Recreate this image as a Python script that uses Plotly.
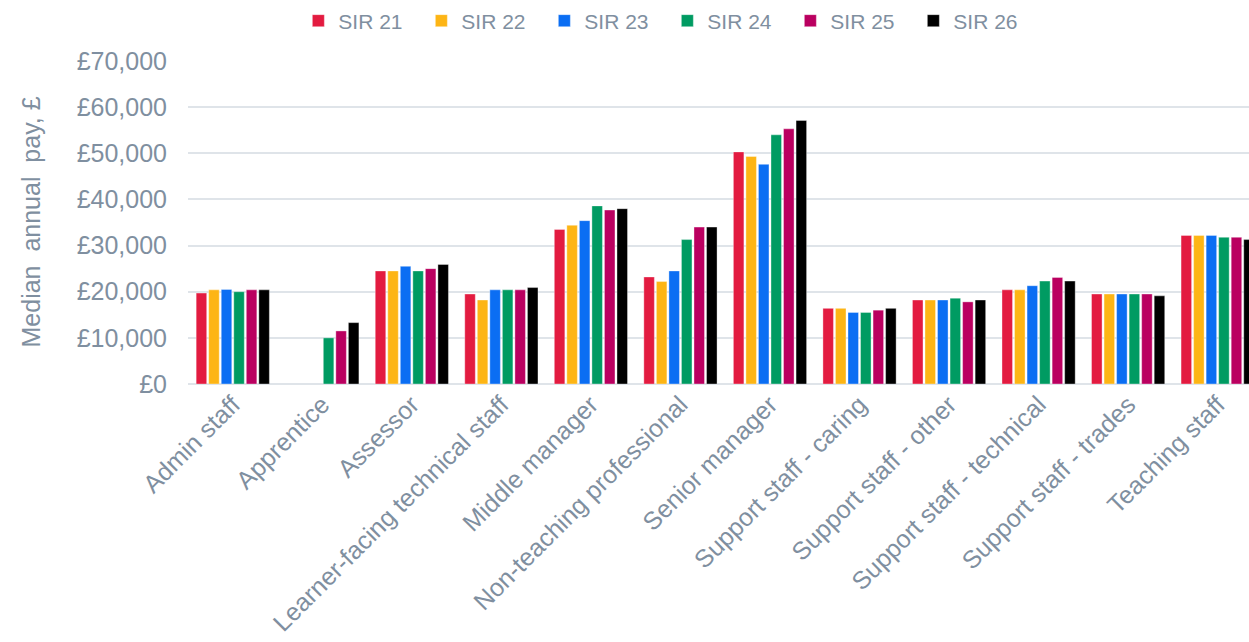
import plotly.graph_objects as go

categories = [
    "Admin staff", "Apprentice", "Assessor", "Learner-facing technical staff",
    "Middle manager", "Non-teaching professional", "Senior manager",
    "Support staff - caring", "Support staff - other", "Support staff - technical",
    "Support staff - trades", "Teaching staff",
]

series_names = ["SIR 21", "SIR 22", "SIR 23", "SIR 24", "SIR 25", "SIR 26"]

sir21 = [19700, None, 24500, 19500, 33500, 23200, 50300, 16400, 18200, 20400, 19500, 32200]
sir22 = [20400, None, 24500, 18200, 34400, 22200, 49300, 16400, 18200, 20400, 19500, 32200]
sir23 = [20500, None, 25500, 20400, 35400, 24500, 47600, 15500, 18200, 21300, 19500, 32200]
sir24 = [20000, 10000, 24500, 20400, 38600, 31300, 54000, 15500, 18600, 22300, 19500, 31800]
sir25 = [20400, 11500, 25000, 20400, 37700, 34000, 55300, 16000, 17800, 23100, 19500, 31800]
sir26 = [20400, 13300, 25900, 20900, 38000, 34000, 57100, 16400, 18200, 22300, 19100, 31300]

series_values = [sir21, sir22, sir23, sir24, sir25, sir26]
colors = ["#E31B40", "#FDB515", "#0B6EF3", "#009B62", "#BA0060", "#000000"]

text_color = "#7f8fa0"
font_family = "Liberation Sans, Arial, sans-serif"

fig = go.Figure()
for name, vals, col in zip(series_names, series_values, colors):
    fig.add_trace(go.Bar(
        name=name, x=categories, y=vals,
        marker=dict(color=col, line=dict(color="rgba(255,255,255,0.6)", width=0.6)),
    ))

fig.update_layout(
    width=1249, height=642,
    margin=dict(l=188, r=0, t=61, b=258, autoexpand=False),
    paper_bgcolor="white", plot_bgcolor="white",
    barmode="group", bargap=0.16, bargroupgap=0.16,
    font=dict(family=font_family, color=text_color, size=25),
    showlegend=True,
    legend=dict(
        orientation="h", x=0.104, xanchor="left",
        yref="container", y=1 - 21 / 642, yanchor="middle",
        font=dict(size=21, color=text_color),
        entrywidth=78, entrywidthmode="pixels", itemwidth=30,
    ),
    xaxis=dict(
        range=[-0.5, 11.35], tickangle=-45, showgrid=False, ticks="",
        showline=False, tickfont=dict(size=25, color=text_color),
    ),
    yaxis=dict(
        range=[0, 70000], dtick=10000, tickprefix="£", tickformat=",d",
        gridcolor="#dfe4e9", gridwidth=2, zeroline=True, zerolinecolor="#dfe4e9",
        zerolinewidth=2, ticks="", ticklabelstandoff=20,
        tickfont=dict(size=25, color=text_color),
    ),
    annotations=[dict(
        text="Median  annual  pay, £", xref="paper", yref="paper",
        x=(30 - 188) / 1061, y=0.5, xanchor="center", yanchor="middle",
        textangle=-90, showarrow=False, font=dict(size=25, color=text_color),
    )],
)

fig.write_html("out.html")
